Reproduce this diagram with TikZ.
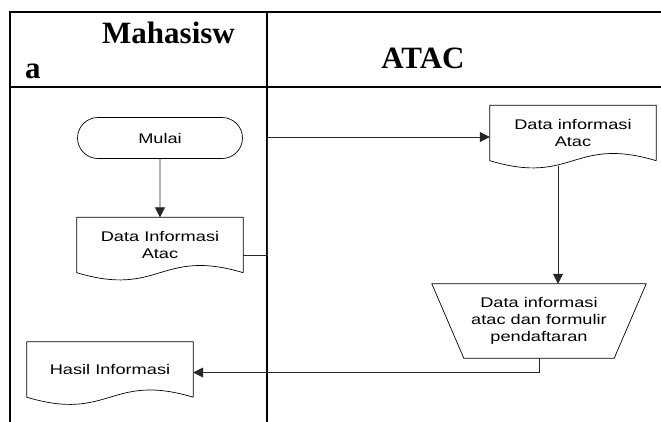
\documentclass[tikz,border=0pt]{standalone}
\usepackage{fontspec}
\setmainfont{Liberation Serif}
\newfontfamily\boxfont[FakeStretch=1.3]{Liberation Sans}
\usetikzlibrary{arrows.meta,shapes.misc}

\tikzset{
    frameline/.style={line width=2.4pt},
    shapeline/.style={draw=black, line width=0.7pt},
    flow/.style={draw=black!85, line width=0.8pt, -{Triangle[length=10pt,width=10pt]}},
    boxtext/.style={font=\boxfont\fontsize{14}{17}\selectfont, align=center, inner sep=0pt},
    docbox/.style={boxtext, minimum width=166pt, minimum height=55pt},
    startbox/.style={boxtext, rounded rectangle, draw, line width=0.7pt, minimum width=165pt, minimum height=41pt},
    lanetitle/.style={font=\bfseries\fontsize{31}{36}\selectfont, inner sep=0pt}
}

% document symbol: straight top and sides, wavy bottom
\newcommand\docoutline[1]{\draw[shapeline] (#1.south east) -- (#1.north east) -- (#1.north west) -- (#1.south west)
    .. controls +(83pt,-25pt) and +(-83pt,25pt) .. (#1.south east);}

\begin{document}
\begin{tikzpicture}[x=1pt, y=-1pt]
    \useasboundingbox (0,0) rectangle (661,421);
    \clip (0,0) rectangle (661,421);

    % swimlanes
    \coordinate (divTop) at (267,12);
    \coordinate (divBot) at (267,440);
    \draw [frameline] (10,12) rectangle (690,450);
    \draw [frameline] (10,87) -- (690,87);
    \draw [frameline] (divTop) -- (divBot);
    \node [lanetitle, anchor=base west] (hdrTop) at (102,43) {Mahasisw};
    \node [lanetitle, anchor=base west] (hdrBot) at (25,78) {a};
    \node [lanetitle, anchor=base] (hdrAtac) at (423,68) {ATAC};

    % shapes
    \node [startbox] (mulai) at (160,138) {Mulai};
    \node [docbox] (info) at (160,245) {Data Informasi\\Atac};
    \docoutline{info}
    \node [docbox] (atac) at (573,133) {Data informasi\\Atac};
    \docoutline{atac}
    \node [boxtext, minimum width=214pt, minimum height=74pt] (form) at (539,321) {Data informasi\\atac dan formulir\\pendaftaran};
    \draw [shapeline] (form.north west) -- (form.north east) -- ([xshift=-32pt]form.south east)
        -- ([xshift=32pt]form.south west) -- cycle;
    \node [docbox] (hasil) at (110,369.5) {Hasil Informasi};
    \docoutline{hasil}

    % connectors
    \coordinate (atacOut) at ([xshift=-15pt,yshift=-5pt]atac.south);
    \draw [flow] (mulai) -- (info);
    \draw [flow] ([yshift=-10pt]info.east) -- ([yshift=-10pt]info.east -| divTop) |- ([yshift=-4pt]atac.west);
    \draw [flow] (atacOut) -- (atacOut |- form.north);
    \draw [flow] (form.south) |- ([yshift=-3pt]hasil.east);
\end{tikzpicture}
\end{document}
